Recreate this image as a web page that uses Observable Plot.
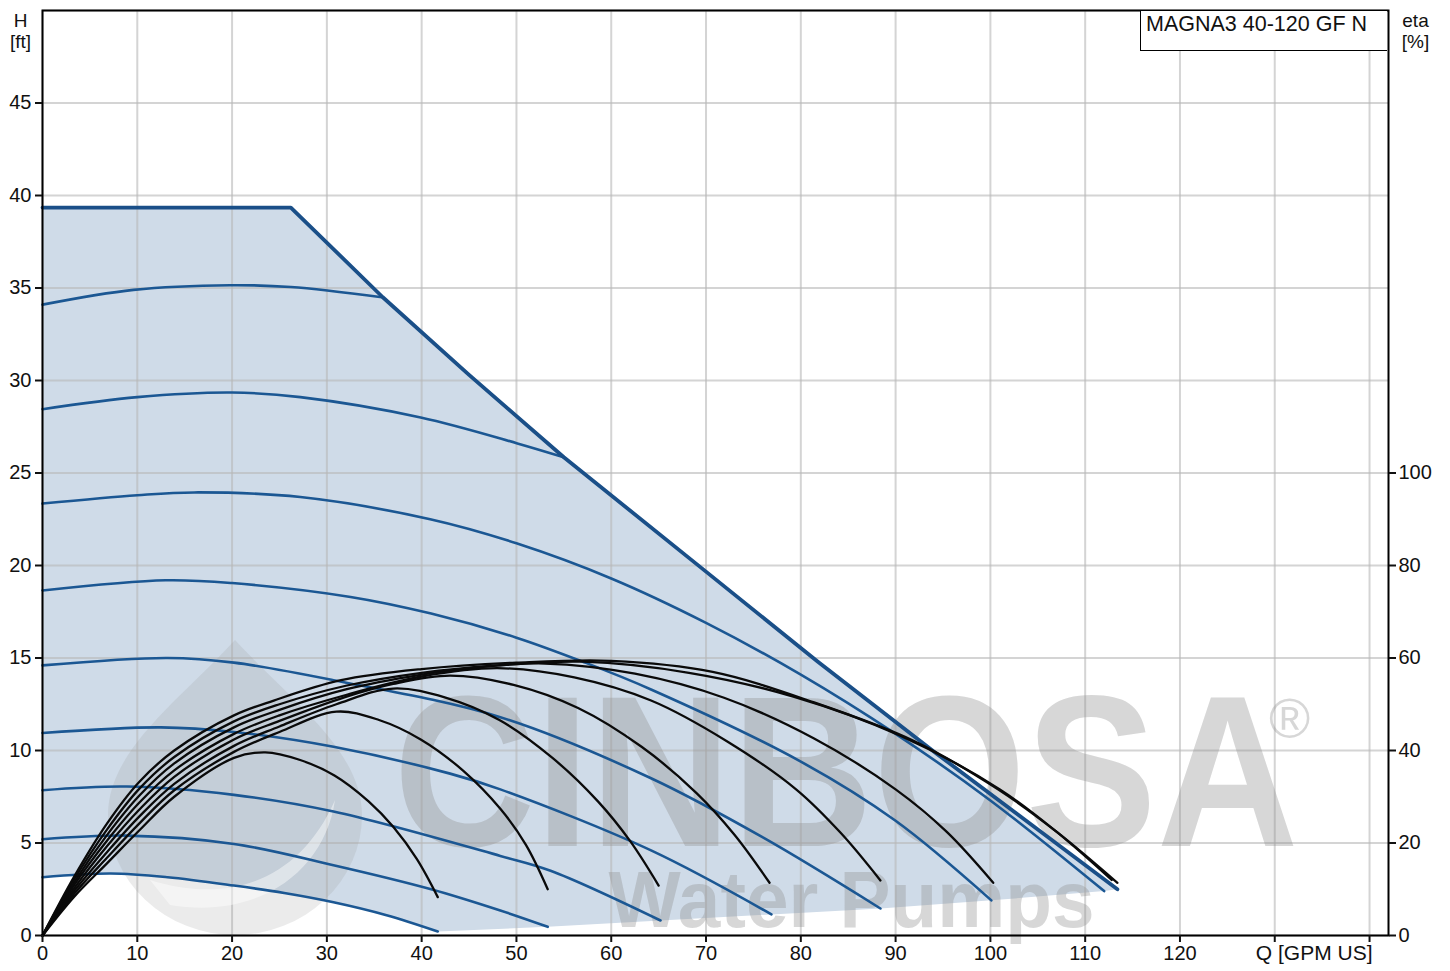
<!DOCTYPE html>
<html><head><meta charset="utf-8">
<script src="https://cdn.jsdelivr.net/npm/d3@7"></script>
<script src="https://cdn.jsdelivr.net/npm/@observablehq/plot@0.6"></script>
<style>
body{margin:0;background:#fff;font-family:"Liberation Sans",Arial,sans-serif;}
#wrap{position:relative;width:1450px;height:971px;}
#model{position:absolute;left:1140px;top:11px;width:247px;height:40px;box-sizing:border-box;border-left:1px solid #000;border-bottom:1px solid #000;background:#fff;font-size:21.5px;padding:1px 0 0 5px;color:#111;}
</style></head><body><div id="wrap"><div id="model">MAGNA3 40-120 GF N</div></div>
<script>
// ---- tick values ----
const xTicks = [0,10,20,30,40,50,60,70,80,90,100,110,120,130,140];
const xLabelMax = 120;
const hTicks = [0,5,10,15,20,25,30,35,40,45];
const hGrid = [0,5,10,15,20,25,30,35,40,45,50];
const etaTicks = [0,20,40,60,80,100];

// ---- max curve (envelope), H in ft ----
const maxQ = [0, 26.2, 35.9, 45, 55.0, 69.8, 81.8, 94.4, 113.4];
const maxH = [39.35, 39.35, 34.5, 30.3, 25.85, 19.75, 14.8, 9.8, 2.5];

// ---- constant-speed curves ----
const c34Q = [0, 9.6, 19.8, 26.2, 35.8];
const c34H = [34.1, 34.9, 35.15, 35.05, 34.5];
const c28Q = [0, 10, 20, 27.2, 39.9, 50.1, 55.0];
const c28H = [28.45, 29.1, 29.35, 29.1, 28.0, 26.6, 25.85];
const c23Q = [0, 10, 16, 27.2, 40.9, 50, 60, 70, 80, 90, 100, 112.0];
const c23H = [23.35, 23.8, 23.95, 23.7, 22.5, 21.2, 19.3, 16.9, 14.1, 10.9, 7.3, 2.4];
const c19Q = [0, 13, 20, 32.5, 41, 50, 57, 64.2, 80, 90, 100.1];
const c19H = [18.65, 19.2, 19.05, 18.3, 17.4, 16.1, 14.8, 13.3, 9.4, 6.2, 1.9];
const c15Q = [0, 13.2, 20.2, 30.7, 48.3, 64.2, 76, 88.4];
const c15H = [14.6, 15.0, 14.75, 13.8, 11.8, 8.5, 5.3, 1.46];
const c11Q = [0, 12.5, 20.2, 30.7, 43, 48.3, 64.2, 76.9];
const c11H = [10.95, 11.25, 11.0, 10.2, 8.75, 7.9, 4.6, 1.14];
const c8Q = [0, 8.9, 20.2, 30.7, 48.3, 53.6, 65.2];
const c8H = [7.85, 8.05, 7.6, 6.7, 4.3, 3.5, 0.81];
const c5Q = [0, 8.9, 20.2, 30.7, 41, 48.3, 53.3];
const c5H = [5.2, 5.4, 4.95, 3.8, 2.5, 1.35, 0.47];
const c3Q = [0, 7.2, 13.2, 20.2, 25.5, 30.7, 36.3, 41.7];
const c3H = [3.15, 3.35, 3.15, 2.7, 2.3, 1.8, 1.1, 0.22];

// ---- efficiency curves, eta in % ----
const e1Q = [0, 3.3, 6.8, 10.2, 13.9, 20.2, 23.5, 27.1, 30.8, 34.4, 37.0, 39.5, 41.7];
const e1E = [0, 8.3, 15.6, 22.7, 30.0, 38.4, 39.6, 38.0, 34.6, 29.0, 23.5, 16.5, 8.3];
const e2Q = [0, 3.3, 6.8, 10.2, 13.9, 20.2, 25, 31, 35.5, 39.9, 44.4, 48.3, 51.0, 53.3];
const e2E = [0, 8.9, 16.8, 24.2, 31.4, 39.7, 44.0, 48.4, 46.6, 42.4, 35.6, 27.4, 19.6, 10.0];
const e3Q = [0, 3.3, 6.8, 10.2, 13.9, 20.2, 25, 31, 37, 42.6, 48.2, 53.8, 58.6, 62.0, 65.0];
const e3E = [0, 9.5, 18.0, 25.7, 32.8, 41.0, 45.2, 50.0, 53.4, 51.4, 46.6, 38.4, 29.0, 20.4, 10.8];
const e4Q = [0, 3.3, 6.8, 10.2, 13.9, 20.2, 25, 32, 37, 43, 49.7, 56.5, 63.2, 69.0, 73.0, 76.7];
const e4E = [0, 10.1, 19.3, 27.2, 34.3, 42.4, 46.4, 51.6, 54.4, 56.2, 54.2, 49.2, 40.8, 30.8, 21.8, 11.4];
const e5Q = [0, 3.3, 6.8, 10.2, 13.9, 20.2, 25, 32, 40, 48, 56.1, 64.2, 72.2, 79.5, 84.2, 88.4];
const e5E = [0, 10.8, 20.5, 28.7, 35.7, 43.6, 47.6, 52.0, 56.0, 57.8, 55.8, 50.8, 42.0, 31.6, 22.2, 11.9];
const e6Q = [0, 3.3, 6.8, 10.2, 13.9, 20.2, 25, 32, 40, 46, 53, 62.5, 71.9, 81.4, 90.0, 95.4, 100.3];
const e6E = [0, 11.4, 21.7, 30.2, 37.2, 45.0, 48.8, 53.2, 56.4, 58.0, 58.8, 56.6, 51.4, 42.6, 31.6, 22.4, 11.4];
const e7Q = [0, 3.3, 6.8, 10.2, 13.9, 20.2, 25, 32, 40, 48, 57, 68.2, 79.3, 90.5, 101.0, 107.0, 112.8];
const e7E = [0, 12.0, 22.9, 31.7, 38.6, 46.3, 50.0, 54.0, 56.8, 58.4, 59.2, 56.8, 51.6, 43.2, 31.6, 22.4, 12.0];
const e8Q = [0, 3.3, 6.8, 10.2, 13.9, 20.2, 24.4, 31.5, 40, 50, 60, 70.7, 81.4, 92, 100.8, 107, 113.4];
const e8E = [0, 12.6, 24.2, 33.2, 40.0, 47.6, 50.8, 55.2, 57.6, 59.0, 59.4, 57.0, 50.4, 42.0, 31.6, 22.4, 11.4];

// ---- build tables ----
const pts = (Q, V) => Q.map((q, i) => ({q, v: V[i]}));
const speedCurves = [[c34Q,c34H],[c28Q,c28H],[c23Q,c23H],[c19Q,c19H],[c15Q,c15H],[c11Q,c11H],[c8Q,c8H],[c5Q,c5H],[c3Q,c3H]].map(([Q,H]) => pts(Q,H));
const effCurves = [[e1Q,e1E],[e2Q,e2E],[e3Q,e3E],[e4Q,e4E],[e5Q,e5E],[e6Q,e6E],[e7Q,e7E],[e8Q,e8E]].map(([Q,E]) => pts(Q,E));
const maxCurve = pts(maxQ, maxH);
const etaPerFt = etaTicks[1] / hTicks[1]; // right axis: 20 % per 5 ft

// operating-range polygon: envelope, curve ends, lowest curve back to Q=0
const lastOf = c => c[c.length - 1];
const endSets = [[c23Q,c23H],[c19Q,c19H],[c15Q,c15H],[c11Q,c11H],[c8Q,c8H],[c5Q,c5H]];
const ends = endSets.map(([Q, H]) => ({q: lastOf(Q), v: lastOf(H)}));
const polygon = [...maxCurve, ...ends, ...pts(c3Q, c3H).reverse()];

const blue = "#1b5793";
const font = '"Liberation Sans", Arial, sans-serif';
const wm = "#8f8f8f";

const marks = [
  Plot.line(polygon, {x: "q", y: "v", fill: "#cfdbe8", stroke: "none", curve: "linear"}),
  Plot.gridX(xTicks, {stroke: "#b8b8b8", strokeOpacity: 0.6, strokeWidth: 2}),
  Plot.gridY(hGrid, {stroke: "#b8b8b8", strokeOpacity: 0.6, strokeWidth: 2}),
  Plot.text(["CINBOSA"], {frameAnchor: "bottom-left", dx: 393 - 42, dy: -90, textAnchor: "start", lineAnchor: "bottom", fontSize: 215, fontWeight: "bold", fill: wm, fillOpacity: 0.36, fontFamily: font}),
  Plot.text(["®"], {frameAnchor: "top-left", dx: 1289 - 42, dy: 710, textAnchor: "middle", lineAnchor: "middle", fontSize: 56, fill: wm, fillOpacity: 0.36, fontFamily: font}),
  Plot.text(["Water Pumps"], {frameAnchor: "bottom-left", dx: 608 - 42, dy: -9, textAnchor: "start", lineAnchor: "bottom", fontSize: 80, fontWeight: "bold", fill: wm, fillOpacity: 0.36, fontFamily: font}),
  ...speedCurves.map(c => Plot.line(c, {x: "q", y: "v", stroke: blue, strokeWidth: 2.6, curve: "catmull-rom"})),
  Plot.line(maxCurve, {x: "q", y: "v", stroke: "#1a4f88", strokeWidth: 3.8, curve: "linear", strokeLinejoin: "round"}),
  ...effCurves.map(c => Plot.line(c, {x: "q", y: d => d.v / etaPerFt, stroke: "#0a0a0a", strokeWidth: 2.3, curve: "catmull-rom"})),
  Plot.frame({stroke: "black", strokeWidth: 2}),
  Plot.axisX(xTicks, {label: null, tickSize: 7, tickPadding: 3, strokeWidth: 2, fontSize: 20, tickFormat: d => d <= xLabelMax ? d : ""}),
  Plot.axisY(hTicks, {anchor: "left", label: null, tickSize: 7, tickPadding: 4, strokeWidth: 2, fontSize: 20}),
  Plot.axisY(hTicks.slice(0, etaTicks.length), {anchor: "right", label: null, tickSize: 7, tickPadding: 3, strokeWidth: 2, fontSize: 20, tickFormat: d => d * etaPerFt}),
  Plot.text(["H\n[ft]"], {frameAnchor: "top-left", dx: -22, dy: 2, textAnchor: "middle", lineAnchor: "top", fontSize: 19, lineHeight: 1.1}),
  Plot.text(["eta\n[%]"], {frameAnchor: "top-right", dx: 27, dy: 2, textAnchor: "middle", lineAnchor: "top", fontSize: 19, lineHeight: 1.1}),
  Plot.text(["Q [GPM US]"], {frameAnchor: "bottom-right", dx: -16, dy: 10, textAnchor: "end", lineAnchor: "top", fontSize: 21})
];

const chart = Plot.plot({
  width: 1450, height: 971,
  marginLeft: 42, marginRight: 62, marginTop: 10, marginBottom: 36,
  x: {domain: [0, 142]},
  y: {domain: [0, 50]},
  style: {fontFamily: font, fontSize: "20px", color: "#111", background: "white", overflow: "visible"},
  marks
});

const svg = d3.select(chart);

// decorative droplet logo of the watermark, behind the curves
const firstLine = svg.selectAll("g[aria-label='line']").nodes()[1];
const logo = document.createElementNS("http://www.w3.org/2000/svg", "path");
logo.setAttribute("d", "M235,640 C290,700 362,750 362,815 A127,120 0 1,1 108,815 C108,750 180,700 235,640 Z");
logo.setAttribute("fill", "#9a9a9a");
logo.setAttribute("fill-opacity", "0.2");
if (firstLine) firstLine.parentNode.insertBefore(logo, firstLine);
const crescent = document.createElementNS("http://www.w3.org/2000/svg", "path");
crescent.setAttribute("d", "M150,880 C230,905 300,880 335,800 C325,870 260,920 170,905 Z");
crescent.setAttribute("fill", "#ffffff");
crescent.setAttribute("fill-opacity", "0.45");
if (firstLine) firstLine.parentNode.insertBefore(crescent, firstLine);

svg.selectAll("text").filter(function () { return this.textContent === "CINBOSA"; })
  .attr("textLength", 905).attr("lengthAdjust", "spacingAndGlyphs");
svg.selectAll("text").filter(function () { return this.textContent === "Water Pumps"; })
  .attr("textLength", 486).attr("lengthAdjust", "spacingAndGlyphs");

document.getElementById("wrap").prepend(chart);
</script>
</body></html>
